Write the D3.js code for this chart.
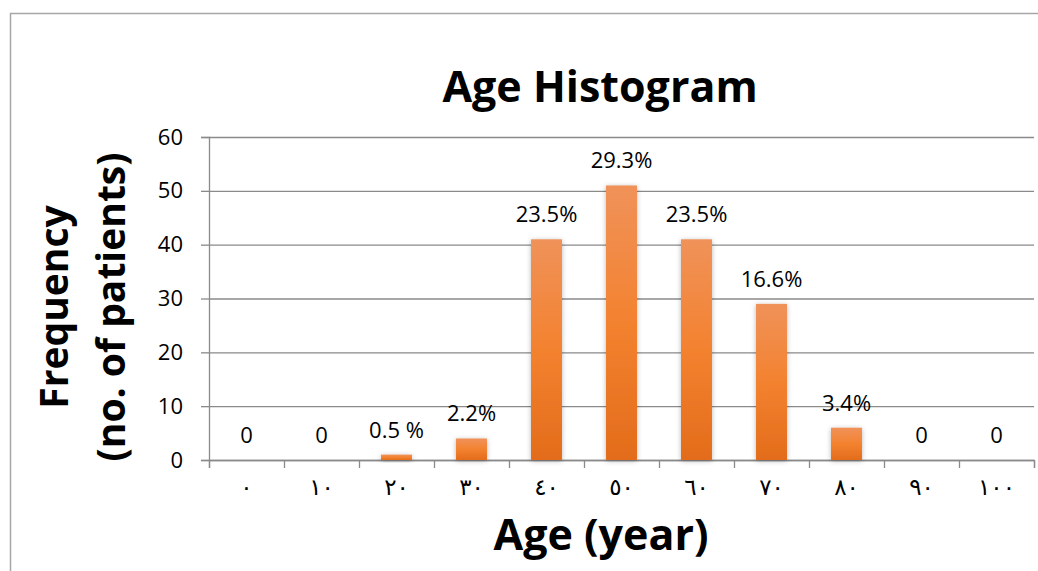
<!DOCTYPE html>
<html>
<head>
<meta charset="utf-8">
<script src="https://cdn.jsdelivr.net/npm/d3@7"></script>
<style>
  html, body { margin: 0; padding: 0; background: #fff; }
  svg { display: block; font-family: "Open Sans", sans-serif; }
</style>
</head>
<body>
<svg id="chart" width="1038" height="571"></svg>
<script>
// ── data ──
const ageBins = ["٠", "١٠", "٢٠", "٣٠", "٤٠", "٥٠", "٦٠", "٧٠", "٨٠", "٩٠", "١٠٠"];
const patientCounts = [0, 0, 1, 4, 41, 51, 41, 29, 6, 0, 0];
const percentLabels = ["0", "0", "0.5 %", "2.2%", "23.5%", "29.3%", "23.5%", "16.6%", "3.4%", "0", "0"];
const yTickValues = [0, 10, 20, 30, 40, 50, 60];

const rows = ageBins.map((bin, i) => ({ bin, n: patientCounts[i], label: percentLabels[i] }));

const svg = d3.select("#chart");
const plot = { left: 209, right: 1034, top: 137, bottom: 460 };
const GRID = "#8a8a8a";

// outer frame (runs off the right / bottom edge like the source)
svg.append("rect").attr("x", 10.5).attr("y", 13.5).attr("width", 1100).attr("height", 700)
    .attr("fill", "none").attr("stroke", "#a6a6a6").attr("stroke-width", 1.5);

const defs = svg.append("defs");
const grad = defs.append("linearGradient").attr("id", "barGrad")
    .attr("x1", 0).attr("y1", 0).attr("x2", 0).attr("y2", 1);
grad.append("stop").attr("offset", "0%").attr("stop-color", "#f0925a");
grad.append("stop").attr("offset", "50%").attr("stop-color", "#f3822f");
grad.append("stop").attr("offset", "100%").attr("stop-color", "#e36c1b");
const shadow = defs.append("filter").attr("id", "barShadow")
    .attr("x", "-50%").attr("y", "-50%").attr("width", "200%").attr("height", "200%");
shadow.append("feDropShadow").attr("dx", 0).attr("dy", 1).attr("stdDeviation", 2.5)
    .attr("flood-color", "#000").attr("flood-opacity", 0.28);

const x = d3.scaleBand().domain(ageBins).range([plot.left, plot.right])
    .paddingInner(0.587).paddingOuter(0.2935);
const xEdge = d3.scaleLinear().domain([0, ageBins.length]).range([plot.left, plot.right]);
const y = d3.scaleLinear().domain([0, 60]).range([plot.bottom, plot.top]);

// gridlines
const grid = svg.append("g").attr("transform", `translate(${plot.left},0)`)
    .call(d3.axisLeft(y).tickValues(yTickValues).tickSize(-(plot.right - plot.left)).tickFormat(""));
grid.select(".domain").remove();
grid.selectAll("line").attr("stroke", GRID).attr("stroke-width", 1.3);

// y axis
const yAx = svg.append("g").attr("transform", `translate(${plot.left},0)`)
    .call(d3.axisLeft(y).tickValues(yTickValues).tickSize(8).tickPadding(18));
yAx.select(".domain").attr("stroke", GRID).attr("stroke-width", 1.3);
yAx.selectAll("line").attr("stroke", GRID).attr("stroke-width", 1.3);
yAx.selectAll("text").attr("fill", "#000").attr("font-size", 22)
    .attr("font-family", "'Open Sans', sans-serif");

// x axis: ticks at bin edges, labels centred in bins
const xAx = svg.append("g").attr("transform", `translate(0,${plot.bottom})`)
    .call(d3.axisBottom(xEdge).ticks(ageBins.length).tickSize(8).tickFormat(""));
xAx.select(".domain").attr("stroke", GRID).attr("stroke-width", 1.3);
xAx.selectAll("line").attr("stroke", GRID).attr("stroke-width", 1.3);

const xLab = svg.append("g").attr("transform", `translate(0,${plot.bottom})`)
    .call(d3.axisBottom(x).tickSize(0).tickPadding(19));
xLab.select(".domain").remove();
xLab.selectAll("text").attr("fill", "#000").attr("font-size", 23)
    .attr("font-family", "'DejaVu Sans', sans-serif");

// bars
svg.append("g").selectAll("rect").data(rows.filter(d => d.n > 0)).join("rect")
    .attr("x", d => x(d.bin))
    .attr("y", d => y(d.n))
    .attr("width", x.bandwidth())
    .attr("height", d => y(0) - y(d.n))
    .attr("fill", "url(#barGrad)")
    .attr("filter", "url(#barShadow)");

// data labels
svg.append("g").selectAll("text").data(rows).join("text")
    .attr("x", d => x(d.bin) + x.bandwidth() / 2)
    .attr("y", d => y(d.n) - 17)
    .attr("text-anchor", "middle")
    .attr("font-size", 22)
    .attr("fill", "#000")
    .text(d => d.label);

// titles
svg.append("text").attr("x", 600).attr("y", 102).attr("text-anchor", "middle")
    .attr("font-size", 43).attr("font-weight", 700).text("Age Histogram");
svg.append("text").attr("x", 601).attr("y", 550).attr("text-anchor", "middle")
    .attr("font-size", 43).attr("font-weight", 700).text("Age (year)");

const yTitle = svg.append("text").attr("transform", "translate(68,307) rotate(-90)")
    .attr("text-anchor", "middle").attr("font-size", 39).attr("font-weight", 700);
yTitle.append("tspan").attr("x", 0).attr("dy", 0).text("Frequency");
yTitle.append("tspan").attr("x", 0).attr("dy", 57).text("(no. of patients)");
</script>
</body>
</html>
